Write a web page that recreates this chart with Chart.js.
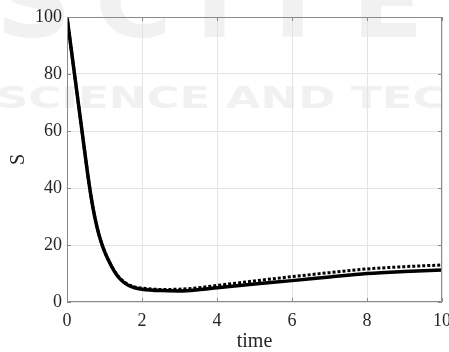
<!DOCTYPE html>
<html>
<head>
<meta charset="utf-8">
<script src="https://cdn.jsdelivr.net/npm/chart.js@4"></script>
<style>
    html, body { margin: 0; padding: 0; background: #fff; }
    #wrap { width: 449px; height: 352px; }
</style>
</head>
<body>
<div id="wrap"><canvas id="sChart"></canvas></div>
<script>
// Simulated S over time, two runs
const timeVals = [0, 0.2, 0.4, 0.5, 0.6, 0.7, 0.8, 0.9, 1.0, 1.1, 1.2, 1.3, 1.4, 1.6, 1.8, 2.0, 2.5, 3.0, 3.5, 4.0, 5.0, 6.0, 7.0, 8.0, 9.0, 10.0];
const sSolid = [100, 80, 60, 50, 40.5, 32.5, 26.3, 21.5, 17.8, 14.8, 12.2, 10.0, 8.3, 6.1, 5.0, 4.5, 4.0, 3.9, 4.3, 5.0, 6.3, 7.5, 8.8, 10.0, 10.7, 11.2];
const sDotted = [100, 80, 60, 50, 40.5, 32.5, 26.3, 21.5, 17.8, 14.9, 12.4, 10.2, 8.5, 6.4, 5.3, 4.9, 4.4, 4.5, 5.0, 5.8, 7.4, 8.9, 10.3, 11.6, 12.4, 13.0];

const xTicks = [0, 2, 4, 6, 8, 10];
const yTicks = [0, 20, 40, 60, 80, 100];

const serif = '"Liberation Serif", "Times New Roman", serif';

function toPoints(ys) {
    return timeVals.map((t, i) => ({ x: t, y: ys[i] }));
}

// faint publisher watermark behind the axes
const watermark = {
    id: 'watermark',
    beforeDraw(chart) {
        const ctx = chart.ctx;
        ctx.save();
        ctx.fillStyle = '#f1f1f1';
        ctx.textBaseline = 'alphabetic';

        ctx.font = 'bold 100px "DejaVu Sans"';
        ctx.letterSpacing = '22px';
        ctx.save();
        ctx.translate(-4, 37);
        ctx.scale(1.05, 1);
        ctx.fillText('SCITE', 0, 0);
        ctx.restore();

        ctx.letterSpacing = '0px';
        ctx.font = 'bold 31px "DejaVu Sans"';
        ctx.save();
        ctx.translate(-4, 108);
        ctx.scale(1.45, 1);
        ctx.fillText('SCIENCE AND TECHNOLOGY', 0, 0);
        ctx.restore();
        ctx.restore();
    }
};

// box around the plot with inward ticks on all sides
const frame = {
    id: 'frame',
    afterDraw(chart) {
        const { ctx, chartArea: a, scales } = chart;
        const len = 4;
        ctx.save();
        ctx.strokeStyle = '#8a8a8a';
        ctx.lineWidth = 1;
        ctx.beginPath();
        ctx.rect(a.left + 0.5, a.top + 0.5, a.right - a.left - 1, a.bottom - a.top - 1);
        xTicks.forEach(v => {
            const px = Math.round(scales.x.getPixelForValue(v)) + 0.5;
            ctx.moveTo(px, a.bottom); ctx.lineTo(px, a.bottom - len);
            ctx.moveTo(px, a.top); ctx.lineTo(px, a.top + len);
        });
        yTicks.forEach(v => {
            const py = Math.round(scales.y.getPixelForValue(v)) + 0.5;
            ctx.moveTo(a.left, py); ctx.lineTo(a.left + len, py);
            ctx.moveTo(a.right, py); ctx.lineTo(a.right - len, py);
        });
        ctx.stroke();
        ctx.restore();
    }
};

const ctx = document.getElementById('sChart').getContext('2d');

new Chart(ctx, {
    type: 'line',
    data: {
        datasets: [{
            label: 'S',
            data: toPoints(sSolid),
            borderColor: '#000',
            borderWidth: 3.5,
            pointRadius: 0,
            cubicInterpolationMode: 'monotone',
            fill: false
        }, {
            label: 'S (dotted)',
            data: toPoints(sDotted),
            borderColor: '#000',
            borderWidth: 3,
            borderDash: [3, 2],
            borderCapStyle: 'butt',
            pointRadius: 0,
            cubicInterpolationMode: 'monotone',
            fill: false
        }]
    },
    options: {
        responsive: true,
        maintainAspectRatio: false,
        animation: false,
        layout: { padding: { left: 0, right: 7, top: 17, bottom: 0 } },
        plugins: {
            legend: { display: false },
            tooltip: { enabled: false }
        },
        scales: {
            x: {
                type: 'linear',
                min: 0,
                max: 10,
                afterBuildTicks: (s) => { s.ticks = xTicks.map(v => ({ value: v })); },
                // let the "10" label run past the edge instead of shrinking the plot
                afterFit: (s) => { s.height = 50; s.paddingLeft = 0; s.paddingRight = 0; },
                border: { display: false },
                grid: { color: '#e4e4e4', drawTicks: false },
                ticks: {
                    color: '#262626',
                    padding: 8,
                    maxRotation: 0,
                    font: { family: serif, size: 18 }
                },
                title: {
                    display: true,
                    text: 'time',
                    color: '#262626',
                    padding: 0,
                    font: { family: serif, size: 20, lineHeight: 1 }
                }
            },
            y: {
                min: 0,
                max: 100,
                afterBuildTicks: (s) => { s.ticks = yTicks.map(v => ({ value: v })); },
                afterFit: (s) => { s.width = 67; s.paddingTop = 0; s.paddingBottom = 0; },
                border: { display: false },
                grid: { color: '#e4e4e4', drawTicks: false },
                ticks: {
                    color: '#262626',
                    padding: 5,
                    font: { family: serif, size: 18 }
                },
                title: {
                    display: true,
                    text: 'S',
                    color: '#262626',
                    padding: { top: 9, bottom: 0 },
                    font: { family: serif, size: 20, lineHeight: 1 }
                }
            }
        }
    },
    plugins: [watermark, frame]
});
</script>
</body>
</html>
